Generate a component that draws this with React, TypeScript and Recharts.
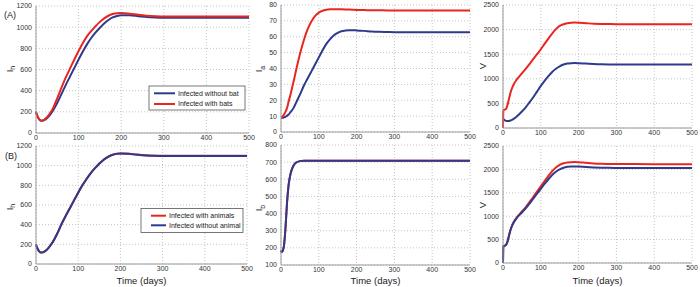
import React from "react";
import { LineChart, Line, XAxis, YAxis, CartesianGrid } from "recharts";

// time points (days)
const T = [0, 1, 2, 5, 8, 12, 16, 20, 25, 30, 35, 40, 50, 60, 70, 80, 90, 100, 110, 120, 130, 140, 150, 160, 170, 180, 190, 200, 220, 240, 260, 280, 300, 350, 400, 450, 500];

// (A) I_h
const ihA_without = [200, 185, 172, 145, 126, 116, 117, 124, 138, 158, 183, 213, 285, 370, 455, 535, 615, 695, 770, 840, 900, 950, 995, 1035, 1068, 1092, 1106, 1113, 1112, 1104, 1096, 1092, 1090, 1089, 1089, 1089, 1089];
const ihA_with = [200, 185, 172, 145, 126, 116, 119, 128, 146, 170, 200, 235, 330, 430, 525, 610, 695, 775, 850, 915, 965, 1010, 1050, 1083, 1108, 1124, 1132, 1133, 1127, 1117, 1109, 1104, 1101, 1100, 1100, 1100, 1100];
// (A) I_a
const ia_without = [9, 9, 9, 9, 9.2, 9.6, 10.3, 11, 12.5, 14, 16, 18.5, 23.5, 29, 33.5, 38, 42.5, 47, 51.5, 55.5, 58.5, 61, 62.5, 63.5, 63.9, 64.1, 64.1, 64, 63.7, 63.3, 63.1, 63, 62.9, 62.8, 62.8, 62.8, 62.8];
const ia_with = [9, 9.1, 9.3, 10, 11, 12.8, 15.2, 19, 23.5, 28.5, 33.5, 39, 49, 57.5, 64.5, 69.5, 73, 75.2, 76.4, 77, 77.3, 77.4, 77.4, 77.3, 77.2, 77.1, 77, 76.9, 76.8, 76.7, 76.7, 76.6, 76.6, 76.6, 76.6, 76.6, 76.6];
// (A) V
const vA_without = [190, 180, 172, 155, 145, 140, 143, 152, 170, 195, 225, 260, 335, 420, 520, 625, 740, 855, 960, 1055, 1140, 1205, 1255, 1290, 1310, 1318, 1320, 1318, 1310, 1302, 1296, 1293, 1292, 1290, 1290, 1290, 1290];
const vA_with = [0, 360, 370, 375, 390, 470, 600, 720, 830, 910, 970, 1020, 1110, 1200, 1300, 1400, 1500, 1600, 1710, 1815, 1920, 2010, 2075, 2110, 2130, 2140, 2142, 2140, 2130, 2120, 2115, 2112, 2110, 2110, 2110, 2110, 2110];
// (B) I_h
const ihB_with = [200, 185, 172, 145, 126, 116, 118, 127, 143, 166, 194, 226, 307, 402, 487, 567, 647, 727, 802, 867, 927, 977, 1022, 1060, 1090, 1110, 1122, 1125, 1122, 1113, 1106, 1102, 1101, 1100, 1100, 1100, 1100];
const ihB_without = [200, 185, 172, 145, 126, 116, 118, 126, 142, 165, 193, 225, 305, 400, 485, 565, 645, 725, 800, 865, 925, 975, 1020, 1058, 1088, 1108, 1120, 1123, 1120, 1111, 1104, 1100, 1099, 1098, 1098, 1098, 1098];
// (B) I_b
const ib_with = [185, 178, 176, 185, 215, 320, 465, 565, 630, 665, 686, 698, 706, 708, 708, 708, 708, 708, 708, 708, 708, 708, 708, 708, 708, 708, 708, 708, 708, 708, 708, 708, 708, 708, 708, 708, 708];
const ib_without = [185, 178, 176, 185, 215, 320, 465, 565, 630, 665, 686, 698, 706, 708, 708, 708, 708, 708, 708, 708, 708, 708, 708, 708, 708, 708, 708, 708, 708, 708, 708, 708, 708, 708, 708, 708, 708];
// (B) V
const vB_with = [0, 355, 365, 370, 385, 460, 590, 710, 820, 900, 960, 1010, 1100, 1190, 1300, 1410, 1525, 1640, 1750, 1860, 1960, 2040, 2095, 2130, 2148, 2155, 2156, 2153, 2140, 2128, 2120, 2117, 2115, 2113, 2112, 2112, 2112];
const vB_without = [0, 355, 365, 370, 385, 460, 590, 710, 815, 890, 945, 995, 1080, 1170, 1270, 1375, 1480, 1585, 1690, 1790, 1880, 1950, 2000, 2035, 2055, 2062, 2063, 2060, 2050, 2042, 2036, 2033, 2032, 2030, 2030, 2030, 2030];

const xTicks = [0, 100, 200, 300, 400, 500];
const ihTicks = [0, 200, 400, 600, 800, 1000, 1200];
const iaTicks = [0, 10, 20, 30, 40, 50, 60, 70, 80];
const vTicks = [0, 500, 1000, 1500, 2000, 2500];
const ibTicks = [100, 200, 300, 400, 500, 600, 700, 800];

const legendA = ["Infected without bat", "Infected with bats"];
const legendB = ["Infected with animals", "Infected without animal"];

const RED = "#e8261f";
const BLUE = "#2e3a8c";
const FONT = "'Liberation Sans', Arial, sans-serif";

type Box = { L: number; R: number; T: number; B: number };

function rows(a: number[], b: number[]) {
  return T.map((t, i) => ({ t, a: a[i], b: b[i] }));
}

function Panel(props: {
  box: Box;
  a: number[];
  b: number[];
  colorA: string;
  colorB: string;
  domain: [number, number];
  ticks: number[];
}) {
  const { box, a, b, colorA, colorB, domain, ticks } = props;
  const yw = 40, mt = 10, mr = 12, xh = 20;
  const width = box.R - box.L + yw + mr;
  const height = box.B - box.T + mt + xh;
  const tickStyle = { fontSize: 7, fill: "#333", fontFamily: FONT };
  return (
    <div style={{ position: "absolute", left: box.L - yw, top: box.T - mt }}>
      <LineChart width={width} height={height} data={rows(a, b)} margin={{ top: mt, right: mr, bottom: 0, left: 0 }}>
        <CartesianGrid stroke="#c4c4c4" strokeDasharray="1 2" />
        <XAxis
          type="number"
          dataKey="t"
          domain={[0, 500]}
          ticks={xTicks}
          height={xh}
          tickSize={0}
          tickMargin={2}
          tick={tickStyle}
          stroke="#9a9a9a"
          interval={0}
        />
        <YAxis
          type="number"
          domain={domain}
          ticks={ticks}
          width={yw}
          tickSize={0}
          tickMargin={4}
          tick={tickStyle}
          stroke="#9a9a9a"
          interval={0}
          allowDataOverflow
        />
        <Line type="monotone" dataKey="a" stroke={colorA} strokeWidth={2} dot={false} isAnimationActive={false} />
        <Line type="monotone" dataKey="b" stroke={colorB} strokeWidth={2} dot={false} isAnimationActive={false} />
      </LineChart>
    </div>
  );
}

function YLab(p: { x: number; y: number; main: string; sub?: string }) {
  return (
    <text
      x={p.x}
      y={p.y}
      transform={`rotate(-90 ${p.x} ${p.y})`}
      textAnchor="middle"
      fontSize={9.5}
      fontFamily={FONT}
      fill="#222"
    >
      {p.main}
      {p.sub ? (
        <tspan fontSize={7} dy={2.5}>
          {p.sub}
        </tspan>
      ) : null}
    </text>
  );
}

function Legend(p: { x: number; y: number; w: number; h: number; items: string[]; colors: string[]; lx1: number; lx2: number; tx: number; ys: number[] }) {
  return (
    <g>
      <rect x={p.x} y={p.y} width={p.w} height={p.h} fill="#fff" stroke="#555" strokeWidth={0.8} />
      {p.items.map((s, i) => (
        <g key={s}>
          <line x1={p.lx1} x2={p.lx2} y1={p.ys[i]} y2={p.ys[i]} stroke={p.colors[i]} strokeWidth={2} />
          <text x={p.tx} y={p.ys[i] + 2.4} fontSize={7} fontFamily={FONT} fill="#222">
            {s}
          </text>
        </g>
      ))}
    </g>
  );
}

export default function App() {
  return (
    <div style={{ position: "absolute", left: 0, top: 0, width: 700, height: 287, background: "#fff", overflow: "hidden" }}>
      <Panel box={{ L: 36, R: 249, T: 6, B: 133 }} a={ihA_without} b={ihA_with} colorA={BLUE} colorB={RED} domain={[0, 1200]} ticks={ihTicks} />
      <Panel box={{ L: 281, R: 470, T: 5, B: 132 }} a={ia_without} b={ia_with} colorA={BLUE} colorB={RED} domain={[0, 80]} ticks={iaTicks} />
      <Panel box={{ L: 503, R: 692, T: 5, B: 128 }} a={vA_without} b={vA_with} colorA={BLUE} colorB={RED} domain={[0, 2500]} ticks={vTicks} />
      <Panel box={{ L: 36, R: 247, T: 146, B: 264 }} a={ihB_with} b={ihB_without} colorA={RED} colorB={BLUE} domain={[0, 1200]} ticks={ihTicks} />
      <Panel box={{ L: 281, R: 470, T: 145, B: 265 }} a={ib_with} b={ib_without} colorA={RED} colorB={BLUE} domain={[100, 800]} ticks={ibTicks} />
      <Panel box={{ L: 503, R: 692, T: 146, B: 263 }} a={vB_with} b={vB_without} colorA={RED} colorB={BLUE} domain={[0, 2500]} ticks={vTicks} />
      <svg width={700} height={287} style={{ position: "absolute", left: 0, top: 0, pointerEvents: "none" }}>
        <text x={10} y={18} textAnchor="middle" fontSize={9} fontFamily={FONT} fill="#222">(A)</text>
        <text x={11} y={159} textAnchor="middle" fontSize={9} fontFamily={FONT} fill="#222">(B)</text>
        <YLab x={12.5} y={69} main="I" sub="h" />
        <YLab x={262} y={69} main="I" sub="a" />
        <YLab x={486} y={66} main="V" />
        <YLab x={12.5} y={207} main="I" sub="h" />
        <YLab x={262} y={208} main="I" sub="b" />
        <YLab x={486} y={205} main="V" />
        <text x={141.5} y={283.5} textAnchor="middle" fontSize={9.5} fontFamily={FONT} fill="#222">Time (days)</text>
        <text x={375.5} y={283.5} textAnchor="middle" fontSize={9.5} fontFamily={FONT} fill="#222">Time (days)</text>
        <text x={597.5} y={283.5} textAnchor="middle" fontSize={9.5} fontFamily={FONT} fill="#222">Time (days)</text>
        <Legend x={149} y={86} w={96} h={24} items={legendA} colors={[BLUE, RED]} lx1={154} lx2={175} tx={178} ys={[93.3, 104]} />
        <Legend x={141} y={208.5} w={102} h={24} items={legendB} colors={[RED, BLUE]} lx1={151} lx2={166} tx={169} ys={[215.7, 225.3]} />
      </svg>
    </div>
  );
}
